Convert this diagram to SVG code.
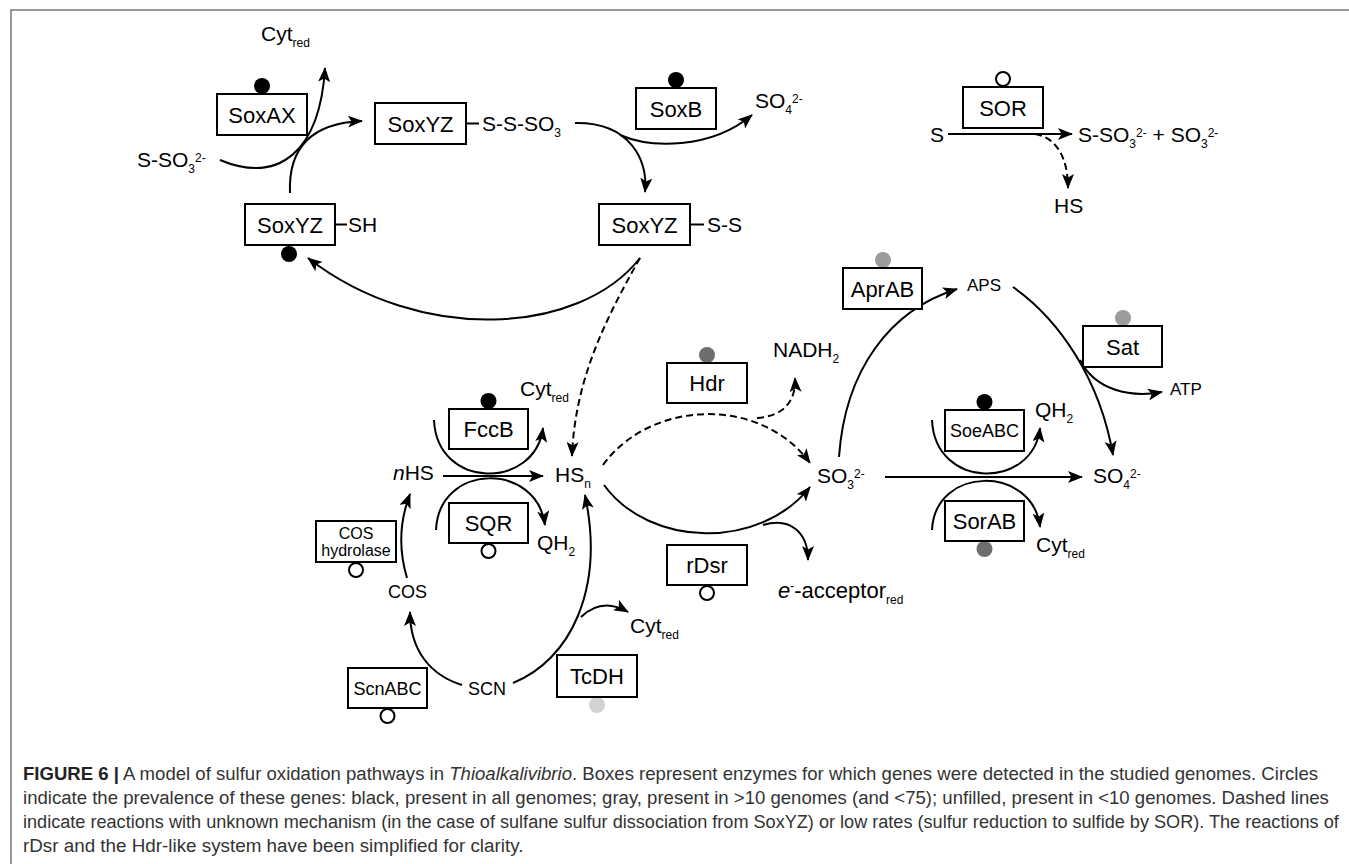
<svg xmlns="http://www.w3.org/2000/svg" width="1349" height="864" viewBox="0 0 1349 864">
<style>
text{font-family:"Liberation Sans",Arial,Helvetica,sans-serif;fill:#000}
.box{fill:#fff;stroke:#000;stroke-width:2}
.lb{font-size:22px;text-anchor:middle}
.lm{font-size:18px;text-anchor:middle}
.lsm{font-size:16px;text-anchor:middle}
.sp{font-size:21px}
.sm{font-size:17px}
.sm18{font-size:18px}
.sp22{font-size:22px}
.s{font-size:12px}
.c{fill:none;stroke:#000;stroke-width:2;marker-end:url(#ah)}
.n{fill:none;stroke:#000;stroke-width:2}
.d{stroke-dasharray:7 4}
.blk{fill:#000}
.opn{fill:#fff;stroke:#000;stroke-width:2}
.g1{fill:#9c9c9c}
.g2{fill:#6e6e6e}
.g3{fill:#d2d2d2}
.cap{font-size:18.5px;fill:#333}
.frame{stroke:#777;stroke-width:1.5;fill:none}
</style>
<defs>
<marker id="ah" viewBox="0 0 15 12" refX="14" refY="6" markerWidth="15" markerHeight="12" markerUnits="userSpaceOnUse" orient="auto">
<path d="M0,0 L15,6 L0,12 L3.5,6 Z" fill="#000"/>
</marker>
</defs>
<rect width="1349" height="864" fill="#fff"/>
<path class="frame" d="M11,864 L11,10 L1349,10"/>

<g id="connectors">
<path class="c" d="M220,160 C280,185 320,150 325,68"/>
<path class="c" d="M290,193 C288,145 315,123 362,121"/>
<path class="c" d="M640,258 C580,335 420,345 308,258"/>
<path class="c d" d="M640,258 C605,320 575,380 572,456"/>
<path class="c" d="M575,123 C630,122 648,160 645,192"/>
<path class="c" d="M620,135 C650,148 710,150 752,115"/>
<path class="c" d="M948,134 L1072,134"/>
<path class="c d" d="M1035,134 C1058,138 1068,160 1068,188"/>
<path class="c" d="M443,476 L543,476"/>
<path class="c" d="M434,420 C437,490 535,490 543,428"/>
<path class="c" d="M436,530 C439,462 537,462 545,525"/>
<path class="c" d="M407,578 C398,548 400,520 410,494"/>
<path class="c" d="M462,685 C430,675 410,650 410,612"/>
<path class="c" d="M513,683 C570,660 605,590 585,495"/>
<path class="c" d="M581,617 Q602,597 628,612"/>
<path class="c d" d="M603,465 C650,400 760,395 810,463"/>
<path class="c d" d="M757,418 C785,416 796,400 795,378"/>
<path class="c" d="M604,485 C650,548 760,550 810,487"/>
<path class="c" d="M763,525 C790,517 808,532 808,560"/>
<path class="c" d="M839,457 C845,370 890,310 957,289"/>
<path class="c" d="M1013,287 C1060,320 1100,380 1113,455"/>
<path class="c" d="M1080,360 C1095,390 1130,398 1162,392"/>
<path class="c" d="M885,477 L1082,477"/>
<path class="c" d="M932,420 C935,490 1033,490 1040,428"/>
<path class="c" d="M932,530 C935,465 1033,465 1040,527"/>
</g>

<g id="SoxAX"><circle class="blk" cx="262" cy="86" r="8"/><rect class="box" x="217" y="94" width="90" height="41"/><text class="lb" x="262" y="122.5">SoxAX</text></g>
<g id="SoxYZ-SSSO3"><rect class="box" x="375" y="103" width="91" height="41"/><text class="lb" x="420.5" y="131.5">SoxYZ</text><path class="n" d="M466,123.5 L479,123.5"/><text class="sp" x="482" y="131">S-S-SO<tspan class="s" dy="6">3</tspan></text></g>
<g id="SoxYZ-SH"><circle class="blk" cx="289" cy="254" r="8"/><rect class="box" x="245" y="204" width="90" height="41"/><text class="lb" x="290" y="232.5">SoxYZ</text><path class="n" d="M335,224.5 L347,224.5"/><text class="sp" x="348" y="232">SH</text></g>
<g id="SoxYZ-SS"><rect class="box" x="599" y="204" width="91" height="41"/><text class="lb" x="644.5" y="232.5">SoxYZ</text><path class="n" d="M690,224.5 L704,224.5"/><text class="sp" x="707" y="232">S-S</text></g>
<g id="SoxB"><circle class="blk" cx="676" cy="80" r="8"/><rect class="box" x="636" y="88" width="80" height="41"/><text class="lb" x="676" y="116.5">SoxB</text></g>
<g id="SOR"><circle class="opn" cx="1003" cy="79" r="7"/><rect class="box" x="963" y="87" width="80" height="41"/><text class="lb" x="1003" y="115.5">SOR</text></g>
<g id="AprAB"><circle class="g1" cx="883" cy="260" r="8"/><rect class="box" x="843" y="268" width="79" height="41"/><text class="lb" x="882.5" y="296.5">AprAB</text></g>
<g id="Sat"><circle class="g1" cx="1123" cy="318" r="8"/><rect class="box" x="1083" y="326" width="79" height="41"/><text class="lb" x="1122.5" y="354.5">Sat</text></g>
<g id="Hdr"><circle class="g2" cx="707" cy="355" r="8"/><rect class="box" x="667" y="363" width="80" height="40"/><text class="lb" x="707" y="391">Hdr</text></g>
<g id="FccB"><circle class="blk" cx="488.5" cy="401" r="8"/><rect class="box" x="449" y="409" width="79" height="40"/><text class="lb" x="488.5" y="437">FccB</text></g>
<g id="SQR"><circle class="opn" cx="488.5" cy="551" r="7"/><rect class="box" x="449" y="503" width="79" height="40"/><text class="lb" x="488.5" y="531">SQR</text></g>
<g id="SoeABC"><circle class="blk" cx="984.5" cy="402" r="8"/><rect class="box" x="945" y="410" width="79" height="41"/><text class="lm" x="984.5" y="437">SoeABC</text></g>
<g id="SorAB"><circle class="g2" cx="984.5" cy="549" r="8"/><rect class="box" x="945" y="501" width="79" height="40"/><text class="lb" x="984.5" y="529">SorAB</text></g>
<g id="rDsr"><circle class="opn" cx="707" cy="593" r="7"/><rect class="box" x="667" y="545" width="80" height="40"/><text class="lb" x="707" y="573">rDsr</text></g>
<g id="COS-hydrolase"><circle class="opn" cx="356" cy="570" r="7"/><rect class="box" x="316" y="521" width="80" height="41"/><text class="lsm" x="356" y="539">COS</text><text class="lsm" x="356" y="556">hydrolase</text></g>
<g id="ScnABC"><circle class="opn" cx="387.5" cy="716" r="7"/><rect class="box" x="348" y="668" width="79" height="40"/><text class="lm" x="387.5" y="694.5">ScnABC</text></g>
<g id="TcDH"><circle class="g3" cx="597" cy="705" r="8"/><rect class="box" x="557" y="655" width="80" height="42"/><text class="lb" x="597" y="684">TcDH</text></g>

<g id="Cyt-top"><text class="sp" x="261" y="41">Cyt<tspan class="s" dy="6">red</tspan></text></g>
<g id="S-SO3-left"><text class="sp" x="137" y="167">S-SO<tspan class="s" dy="6">3</tspan><tspan class="s" dy="-11">2-</tspan></text></g>
<g id="SO4-top"><text class="sp" x="755" y="108">SO<tspan class="s" dy="6">4</tspan><tspan class="s" dy="-11">2-</tspan></text></g>
<g id="S-SOR"><text class="sp" x="930" y="142">S</text></g>
<g id="SOR-products"><text class="sp" x="1078" y="142">S-SO<tspan class="s" dy="6">3</tspan><tspan class="s" dy="-11">2-</tspan><tspan dy="5"> + SO</tspan><tspan class="s" dy="6">3</tspan><tspan class="s" dy="-11">2-</tspan></text></g>
<g id="HS-SOR"><text class="sp" x="1054" y="213">HS</text></g>
<g id="APS"><text class="sm" x="967" y="291">APS</text></g>
<g id="ATP"><text class="sm" x="1170" y="395">ATP</text></g>
<g id="NADH2"><text class="sp" x="773" y="357">NADH<tspan class="s" dy="6">2</tspan></text></g>
<g id="Cyt-mid"><text class="sp" x="520" y="396">Cyt<tspan class="s" dy="6">red</tspan></text></g>
<g id="QH2-mid"><text class="sp" x="537" y="550">QH<tspan class="s" dy="6">2</tspan></text></g>
<g id="QH2-right"><text class="sp" x="1035" y="417">QH<tspan class="s" dy="6">2</tspan></text></g>
<g id="nHS"><text class="sp" x="393" y="480"><tspan font-style="italic">n</tspan>HS</text></g>
<g id="HSn"><text class="sp" x="555" y="482">HS<tspan class="s" dy="6">n</tspan></text></g>
<g id="SO3-mid"><text class="sp" x="817" y="483">SO<tspan class="s" dy="6">3</tspan><tspan class="s" dy="-11">2-</tspan></text></g>
<g id="SO4-right"><text class="sp" x="1093" y="483">SO<tspan class="s" dy="6">4</tspan><tspan class="s" dy="-11">2-</tspan></text></g>
<g id="Cyt-right"><text class="sp" x="1036" y="552">Cyt<tspan class="s" dy="6">red</tspan></text></g>
<g id="e-acceptor"><text class="sp22" x="778" y="598"><tspan font-style="italic">e</tspan><tspan class="s" dy="-8">-</tspan><tspan dy="8">-acceptor</tspan><tspan class="s" dy="6">red</tspan></text></g>
<g id="COS"><text class="sm18" x="388" y="598">COS</text></g>
<g id="SCN"><text class="sm18" x="468" y="695">SCN</text></g>
<g id="Cyt-low"><text class="sp" x="630" y="633">Cyt<tspan class="s" dy="6">red</tspan></text></g>

<g id="caption" transform="scale(0.9,1)">
<text class="cap" x="25.56" y="780" textLength="1439" lengthAdjust="spacingAndGlyphs"><tspan font-weight="bold" fill="#222">FIGURE 6 |</tspan> A model of sulfur oxidation pathways in <tspan font-style="italic">Thioalkalivibrio</tspan>. Boxes represent enzymes for which genes were detected in the studied genomes. Circles</text>
<text class="cap" x="25.56" y="804" textLength="1451" lengthAdjust="spacingAndGlyphs">indicate the prevalence of these genes: black, present in all genomes; gray, present in &gt;10 genomes (and &lt;75); unfilled, present in &lt;10 genomes. Dashed lines</text>
<text class="cap" x="25.56" y="828" textLength="1462" lengthAdjust="spacingAndGlyphs">indicate reactions with unknown mechanism (in the case of sulfane sulfur dissociation from SoxYZ) or low rates (sulfur reduction to sulfide by SOR). The reactions of</text>
<text class="cap" x="25.56" y="852" textLength="556" lengthAdjust="spacingAndGlyphs">rDsr and the Hdr-like system have been simplified for clarity.</text>
</g>
</svg>
